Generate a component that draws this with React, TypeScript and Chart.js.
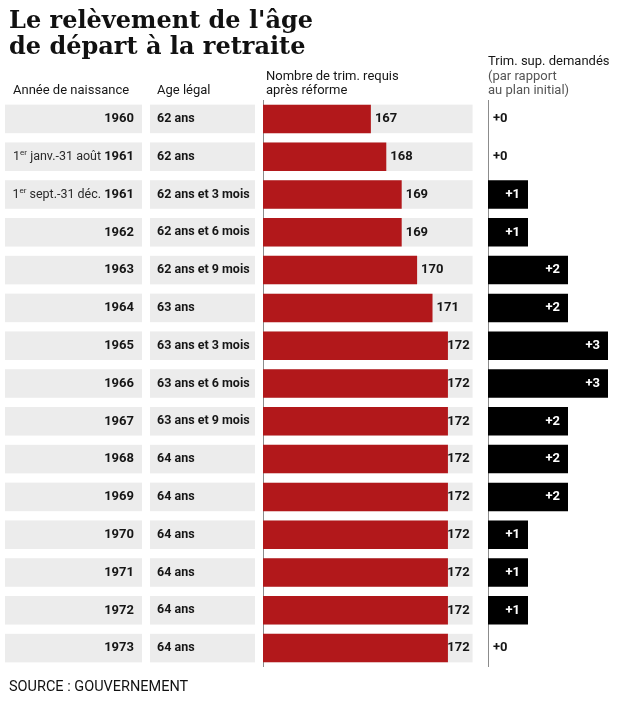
import React, { useEffect, useRef } from 'react';
import { Chart, registerables } from 'chart.js';

Chart.register(...registerables);

// ---------- data ----------
const TITLE_LINES = ["Le relèvement de l'âge", 'de départ à la retraite'];
const SOURCE_TEXT = 'SOURCE : GOUVERNEMENT';
const HEADER_BIRTH = 'Année de naissance';
const HEADER_AGE = 'Age légal';
const HEADER_TRIM = ['Nombre de trim. requis', 'après réforme'];
const HEADER_EXTRA = ['Trim. sup. demandés', '(par rapport', 'au plan initial)'];

const BIRTH_YEARS = ['1960', '1961', '1961', '1962', '1963', '1964', '1965', '1966', '1967', '1968', '1969', '1970', '1971', '1972', '1973'];
const BIRTH_PERIODS = ['', '1er janv.-31 août', '1er sept.-31 déc.', '', '', '', '', '', '', '', '', '', '', '', ''];
const LEGAL_AGES = ['62 ans', '62 ans', '62 ans et 3 mois', '62 ans et 6 mois', '62 ans et 9 mois', '63 ans', '63 ans et 3 mois', '63 ans et 6 mois', '63 ans et 9 mois', '64 ans', '64 ans', '64 ans', '64 ans', '64 ans', '64 ans'];
const TRIM_REQUIRED = [167, 168, 169, 169, 170, 171, 172, 172, 172, 172, 172, 172, 172, 172, 172];
const TRIM_EXTRA = [0, 0, 1, 1, 2, 2, 3, 3, 2, 2, 2, 1, 1, 1, 0];

const TRIM_AXIS_MIN = 160;
const TRIM_AXIS_MAX = 174.6;
const TRIM_TRACK_END = 173.6;
const EXTRA_AXIS_MIN = 0;
const EXTRA_AXIS_MAX = 3.4;

// ---------- styles ----------
const RED = '#b2181b';
const CELL_GREY = '#ececec';
const TEXT = '#161616';
const SANS = 'Roboto';

const tablePlugin = {
  id: 'tablePlugin',
  beforeDatasetsDraw(chart: any) {
    const ctx = chart.ctx as CanvasRenderingContext2D;
    const area = chart.chartArea;
    const xs = chart.scales.x;
    const xs2 = chart.scales.x2;
    const meta = chart.getDatasetMeta(0);
    const x0 = xs.getPixelForValue(TRIM_AXIS_MIN);
    const xTrack = xs.getPixelForValue(TRIM_TRACK_END);
    const xz = xs2.getPixelForValue(EXTRA_AXIS_MIN);

    ctx.save();
    // headers
    ctx.textBaseline = 'middle';
    ctx.textAlign = 'left';
    ctx.fillStyle = TEXT;
    ctx.font = `13px ${SANS}`;
    ctx.fillText(HEADER_BIRTH, 13, 91);
    ctx.fillText(HEADER_AGE, 157, 91);
    ctx.fillText(HEADER_TRIM[0], x0 + 3, 77);
    ctx.fillText(HEADER_TRIM[1], x0 + 3, 91);
    ctx.fillText(HEADER_EXTRA[0], xz, 62);
    ctx.fillStyle = '#555';
    ctx.fillText(HEADER_EXTRA[1], xz, 77);
    ctx.fillText(HEADER_EXTRA[2], xz, 91);

    // rows
    meta.data.forEach((bar: any, i: number) => {
      const h = bar.height;
      const yc = bar.y;
      const top = yc - h / 2;
      ctx.fillStyle = CELL_GREY;
      ctx.fillRect(5, top, 137, h);
      ctx.fillRect(150, top, 105, h);
      ctx.fillRect(x0, top, xTrack - x0, h);

      // column 1: period + bold year, right aligned
      const right = 134;
      ctx.font = `bold 13px ${SANS}`;
      const year = BIRTH_YEARS[i];
      const yw = ctx.measureText(year).width;
      ctx.fillStyle = TEXT;
      ctx.textAlign = 'left';
      ctx.fillText(year, right - yw, yc);
      const period = BIRTH_PERIODS[i];
      if (period) {
        const m = period.match(/^(\d+)(er)(.*)$/);
        const normal = `12.5px ${SANS}`;
        const small = `8px ${SANS}`;
        let parts: [string, string, number][] = [];
        if (m) {
          parts = [[m[1], normal, 0], [m[2], small, -4], [m[3] + ' ', normal, 0]];
        } else {
          parts = [[period + ' ', normal, 0]];
        }
        let total = 0;
        parts.forEach((p) => { ctx.font = p[1]; total += ctx.measureText(p[0]).width; });
        let x = right - yw - total;
        ctx.fillStyle = '#2a2a2a';
        parts.forEach((p) => {
          ctx.font = p[1];
          ctx.fillText(p[0], x, yc + p[2]);
          x += ctx.measureText(p[0]).width;
        });
      }

      // column 2
      ctx.font = `bold 12.5px ${SANS}`;
      ctx.fillStyle = TEXT;
      ctx.fillText(LEGAL_AGES[i], 157, yc);
    });

    // axis lines
    ctx.strokeStyle = '#8c8c8c';
    ctx.lineWidth = 1;
    ctx.beginPath();
    ctx.moveTo(Math.round(x0) + 0.5, area.top);
    ctx.lineTo(Math.round(x0) + 0.5, area.bottom);
    ctx.moveTo(Math.round(xz) + 0.5, area.top);
    ctx.lineTo(Math.round(xz) + 0.5, area.bottom);
    ctx.stroke();
    ctx.restore();
  },
  afterDatasetsDraw(chart: any) {
    const ctx = chart.ctx as CanvasRenderingContext2D;
    const xs = chart.scales.x;
    const xs2 = chart.scales.x2;
    const xTrack = xs.getPixelForValue(TRIM_TRACK_END);
    const xz = xs2.getPixelForValue(EXTRA_AXIS_MIN);
    ctx.save();
    ctx.textBaseline = 'middle';
    ctx.font = `bold 13px ${SANS}`;
    chart.getDatasetMeta(0).data.forEach((bar: any, i: number) => {
      const txt = String(TRIM_REQUIRED[i]);
      const w = ctx.measureText(txt).width;
      ctx.fillStyle = TEXT;
      ctx.textAlign = 'left';
      ctx.fillText(txt, Math.min(bar.x + 4, xTrack - 3 - w), bar.y);
    });
    chart.getDatasetMeta(1).data.forEach((bar: any, i: number) => {
      const v = TRIM_EXTRA[i];
      const txt = '+' + v;
      if (v > 0) {
        ctx.fillStyle = '#ffffff';
        ctx.textAlign = 'right';
        ctx.fillText(txt, bar.x - 8, bar.y);
      } else {
        ctx.fillStyle = TEXT;
        ctx.textAlign = 'left';
        ctx.fillText(txt, xz + 5, bar.y);
      }
    });
    ctx.restore();
  },
};

export default function App() {
  const ref = useRef<HTMLCanvasElement | null>(null);
  useEffect(() => {
    document.body.style.margin = '0';
    if (!ref.current) return;
    Chart.defaults.font.family = SANS;
    const chart = new Chart(ref.current, {
      type: 'bar',
      data: {
        labels: BIRTH_YEARS.map((y, i) => (BIRTH_PERIODS[i] ? BIRTH_PERIODS[i] + ' ' + y : y)),
        datasets: [
          {
            label: HEADER_TRIM.join(' '),
            data: TRIM_REQUIRED,
            xAxisID: 'x',
            yAxisID: 'y',
            backgroundColor: RED,
            base: TRIM_AXIS_MIN,
            grouped: false,
            categoryPercentage: 1,
            barPercentage: 0.755,
          } as any,
          {
            label: HEADER_EXTRA.join(' '),
            data: TRIM_EXTRA,
            xAxisID: 'x2',
            yAxisID: 'y',
            backgroundColor: '#000000',
            grouped: false,
            categoryPercentage: 1,
            barPercentage: 0.755,
          } as any,
        ],
      },
      options: {
        indexAxis: 'y',
        responsive: false,
        animation: false,
        devicePixelRatio: 1,
        layout: { padding: { left: 9, right: 1, top: 0, bottom: 0 } },
        scales: {
          y: {
            type: 'category',
            position: 'left',
            grid: { display: false },
            ticks: { display: false },
            border: { display: false },
            afterFit: (s: any) => { s.width = 254; },
          },
          x: {
            type: 'linear',
            position: 'bottom',
            stack: 'cols',
            stackWeight: 225,
            min: TRIM_AXIS_MIN,
            max: TRIM_AXIS_MAX,
            display: false,
          },
          x2: {
            type: 'linear',
            position: 'bottom',
            stack: 'cols',
            stackWeight: 136,
            min: EXTRA_AXIS_MIN,
            max: EXTRA_AXIS_MAX,
            display: false,
          },
        } as any,
        plugins: {
          legend: { display: false },
          tooltip: { enabled: false },
          title: {
            display: true,
            text: TITLE_LINES,
            align: 'start',
            color: '#111111',
            font: { family: 'DejaVu Serif', weight: 'bold', size: 24, lineHeight: '26px' } as any,
            padding: { top: 9, bottom: 39 },
          },
          subtitle: {
            display: true,
            position: 'bottom',
            text: SOURCE_TEXT,
            align: 'start',
            color: '#111111',
            font: { family: SANS, size: 14.5, lineHeight: '17px' } as any,
            padding: { top: 12, bottom: 11 },
          },
        },
      },
      plugins: [tablePlugin],
    });
    return () => chart.destroy();
  }, []);
  return <canvas ref={ref} width={625} height={707} style={{ display: 'block' }} />;
}
